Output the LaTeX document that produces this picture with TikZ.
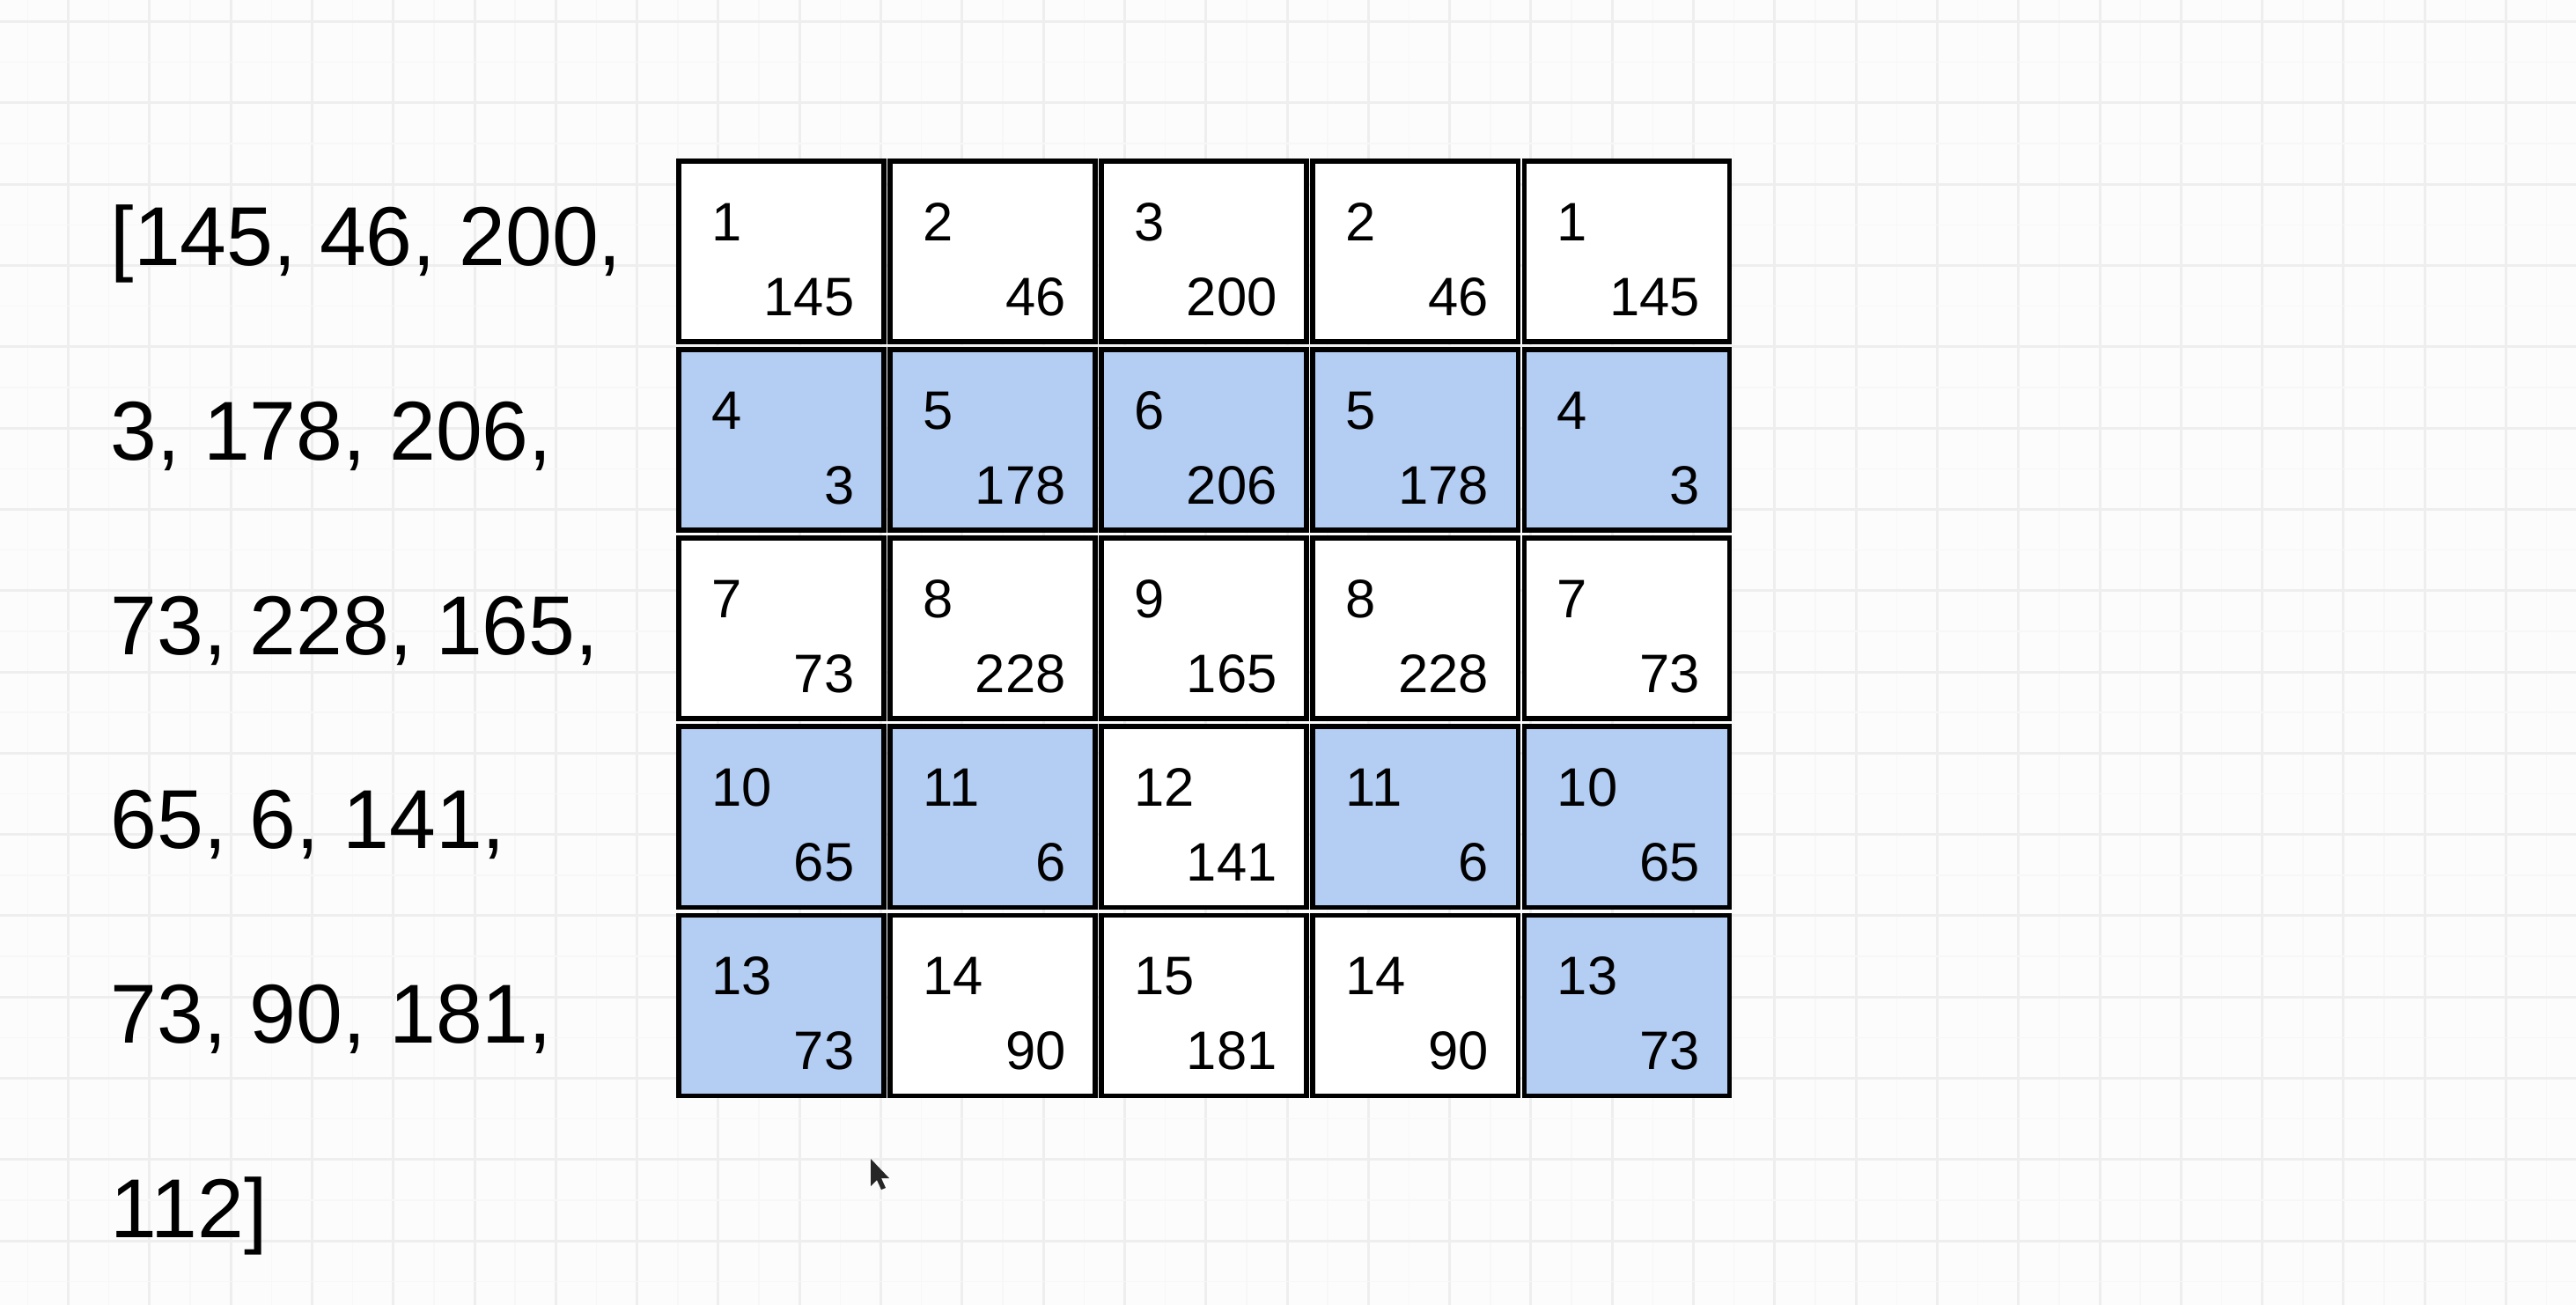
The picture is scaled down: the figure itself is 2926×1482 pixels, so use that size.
\documentclass[tikz,border=0pt]{standalone}
\usepackage{fontspec}
\setmainfont{Liberation Sans}
\usetikzlibrary{matrix}

\definecolor{paper}{RGB}{252,252,252}
\definecolor{gridline}{RGB}{238,238,238}
\definecolor{gridfaint}{RGB}{247,247,247}
\definecolor{cellblue}{RGB}{180,205,243}

\newcommand{\pair}[2]{\vbox to 2.05cm{\hsize=2.33cm
  \vskip0.905cm\hbox to\hsize{\hskip0.375cm\smash{#1}\hfil}
  \vfil\hbox to\hsize{\hfil\smash{#2}\hskip0.335cm}\vskip0.295cm}}

\tikzset{
  cellbox/.style={draw,line width=0.055cm,fill=white,inner sep=0pt,outer sep=0pt,font=\fontsize{17.5}{20}\selectfont},
  hi/.style={fill=cellblue},
  arr/.style={anchor=base west,inner sep=0pt,font=\fontsize{27}{32}\selectfont}
}

\begin{document}
\begin{tikzpicture}[x=0.01cm,y=-0.01cm]
  \useasboundingbox (0,0) rectangle (2926,1482);
  \fill[paper] (0,0) rectangle (2926,1482);
  \foreach \k in {0,...,31}{
    \draw[gridfaint,line width=0.015cm] ({31.35+92.3*\k},0) -- ({31.35+92.3*\k},1482);
    \draw[gridline,line width=0.03cm] ({77.5+92.3*\k},0) -- ({77.5+92.3*\k},1482);
  }
  \foreach \k in {0,...,16}{
    \draw[gridfaint,line width=0.015cm] (0,{70.75+92.3*\k}) -- (2926,{70.75+92.3*\k});
    \draw[gridline,line width=0.03cm] (0,{24.6+92.3*\k}) -- (2926,{24.6+92.3*\k});
  }

  \foreach \t [count=\i] in {{[145, 46, 200,},{3, 178, 206,},{73, 228, 165,},{65, 6, 141,},{73, 90, 181,},{112]}}
    \node[arr] (line\i) at (125,{302+220.6*(\i-1)}) {\t};

  \matrix (tab) [matrix of nodes,nodes={cellbox},column sep=0.015cm,row sep=0.035cm,
                 inner sep=0pt,outer sep=0pt,anchor=north west,ampersand replacement=\&] at (768,180)
    {
      \pair{1}{145}\& \pair{2}{46}\& \pair{3}{200}\& \pair{2}{46}\& \pair{1}{145}\\
      |[hi]|\pair{4}{3}\& |[hi]|\pair{5}{178}\& |[hi]|\pair{6}{206}\& |[hi]|\pair{5}{178}\& |[hi]|\pair{4}{3}\\
      \pair{7}{73}\& \pair{8}{228}\& \pair{9}{165}\& \pair{8}{228}\& \pair{7}{73}\\
      |[hi]|\pair{10}{65}\& |[hi]|\pair{11}{6}\& \pair{12}{141}\& |[hi]|\pair{11}{6}\& |[hi]|\pair{10}{65}\\
      |[hi]|\pair{13}{73}\& \pair{14}{90}\& \pair{15}{181}\& \pair{14}{90}\& |[hi]|\pair{13}{73}\\
    };

  \fill[black!85] (989,1316) -- ++(0,31) -- ++(7,-7) -- ++(5,11) -- ++(5,-2) -- ++(-5,-11) -- ++(9,0) -- cycle;
\end{tikzpicture}
\end{document}
